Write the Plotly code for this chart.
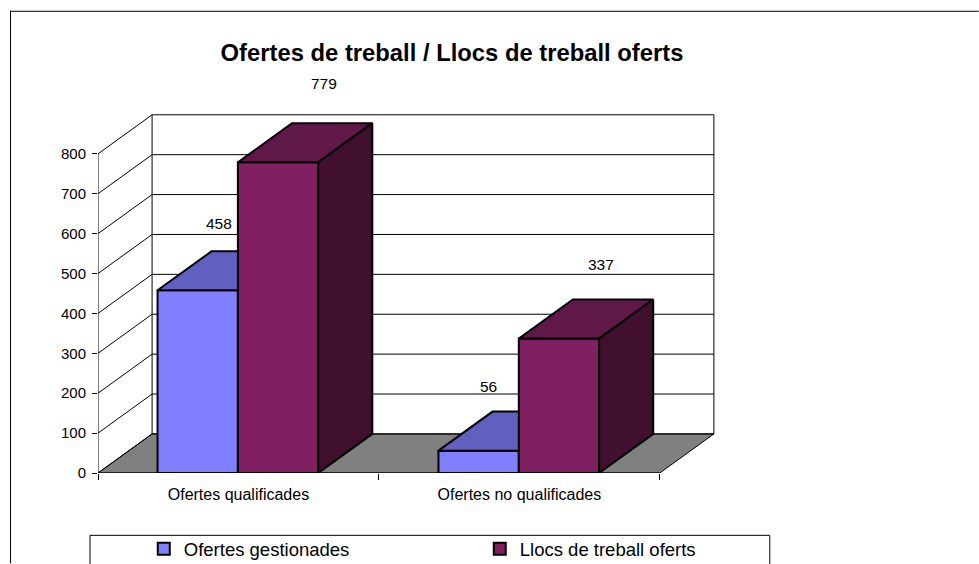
import plotly.graph_objects as go

# ---- data ----
categories = ["Ofertes qualificades", "Ofertes no qualificades"]
series_names = ["Ofertes gestionades", "Llocs de treball oferts"]
ofertes_gestionades = [458, 56]
llocs_oferts = [779, 337]
y_ticks = [0, 100, 200, 300, 400, 500, 600, 700, 800]

# ---- style / geometry ----
W, H = 979, 564
PX_X, PX_Y = 281.0, 0.4          # pixels per category, per value unit
L, B0 = 98.0, 473.5              # pixel position of the origin
DX, DY = 0.1925, 98.0            # depth of the 3D box in axis units
X_MAX, Y_MAX = 2.2, 910.0
GAP, BW = 0.212, 0.286
FRONT = ["#8080FF", "#802060"]
TOP = ["#6060C0", "#601848"]
SIDE = "#40102E"
LABEL_SHIFT_A = [(21, 67), (10, 64)]
LABEL_SHIFT_B = [(46, 79), (42, 74)]
FONT = "Liberation Sans, Arial, sans-serif"

top_px = B0 - Y_MAX * PX_Y
plot_h = Y_MAX * PX_Y
plot_w = X_MAX * PX_X

fig = go.Figure()

# front faces and legend
for i, vals in enumerate([ofertes_gestionades, llocs_oferts]):
    fig.add_trace(go.Bar(
        x=[0, 1], y=vals, name=series_names[i],
        width=BW, offset=GAP + i * BW,
        marker=dict(color=FRONT[i], line=dict(color="black", width=2)),
        hoverinfo="y",
    ))


def poly(xs, ys, color, lw=2):
    fig.add_trace(go.Scatter(
        x=xs + xs[:1], y=ys + ys[:1], mode="lines", fill="toself",
        fillcolor=color, line=dict(color="black", width=lw),
        showlegend=False, hoverinfo="skip", cliponaxis=False,
    ))


# depth faces, computed from the values
for c, (a, b) in enumerate(zip(ofertes_gestionades, llocs_oferts)):
    x0 = c + GAP
    x1 = x0 + BW
    x2 = x1 + BW
    # first series: only the part of the top not hidden by the second bar
    poly([x0, x1, x1, x0 + DX], [a, a, a + DY, a + DY], TOP[0])
    # second series
    poly([x1, x2, x2 + DX, x1 + DX], [b, b, b + DY, b + DY], TOP[1])
    poly([x2, x2 + DX, x2 + DX, x2], [0, DY, b + DY, b], SIDE)

# axis lines of the front plane
for xs, ys in ([[0, 0], [0, y_ticks[-1]]], [[0, 2], [0, 0]]):
    fig.add_trace(go.Scatter(x=xs, y=ys, mode="lines",
                             line=dict(color="black", width=1),
                             showlegend=False, hoverinfo="skip", cliponaxis=False))

shapes = []
below = dict(layer="below", xref="x", yref="y")
# floor
shapes.append(dict(type="path", **below, fillcolor="#808080", line=dict(color="black", width=1),
                   path=f"M0,0 L2,0 L{2 + DX},{DY} L{DX},{DY} Z"))
# gridlines on side and back walls
for v in y_ticks:
    shapes.append(dict(type="line", **below, x0=0, y0=v, x1=DX, y1=v + DY,
                       line=dict(color="black", width=1)))
    shapes.append(dict(type="line", **below, x0=DX, y0=v + DY, x1=2 + DX, y1=v + DY,
                       line=dict(color="black", width=1)))
for xv in (DX, 2 + DX):
    shapes.append(dict(type="line", **below, x0=xv, y0=DY, x1=xv, y1=y_ticks[-1] + DY,
                       line=dict(color="black", width=1)))


# outer frame and legend box, in pixels of the page
def px(x):
    return (x - L) / plot_w


def py(y):
    return (B0 - y) / plot_h


frame = dict(xref="paper", yref="paper", line=dict(color="black", width=1))
shapes.append(dict(type="line", **frame, x0=px(10), x1=px(979), y0=py(10.5), y1=py(10.5)))
shapes.append(dict(type="line", **frame, x0=px(10.5), x1=px(10.5), y0=py(10), y1=py(564)))
shapes.append(dict(type="rect", **frame, x0=px(90), x1=px(770), y0=py(536), y1=py(580)))

annotations = []
for vals, shifts, i in ((ofertes_gestionades, LABEL_SHIFT_A, 0), (llocs_oferts, LABEL_SHIFT_B, 1)):
    for c, v in enumerate(vals):
        annotations.append(dict(
            x=c + GAP + BW * (i + 0.5), y=v, xref="x", yref="y", text=str(v),
            showarrow=False, xshift=shifts[c][0], yshift=shifts[c][1],
            font=dict(family=FONT, size=15.5, color="black"),
        ))

fig.update_layout(
    width=W, height=H,
    margin=dict(l=L, r=W - L - plot_w, t=top_px, b=H - B0, pad=0, autoexpand=False),
    paper_bgcolor="white", plot_bgcolor="white",
    font=dict(family=FONT, color="black"),
    barmode="overlay",
    showlegend=True,
    title=dict(text="<b>Ofertes de treball / Llocs de treball oferts</b>",
               x=452 / W, xanchor="center",
               y=1 - 53 / H, yanchor="middle", yref="container",
               font=dict(family=FONT, size=23.8, color="black")),
    legend=dict(orientation="h", x=px(816), xanchor="right", y=py(531), yanchor="top",
                bgcolor="rgba(0,0,0,0)", borderwidth=0,
                entrywidth=291, entrywidthmode="pixels",
                font=dict(family=FONT, size=18.5, color="black"), traceorder="normal"),
    xaxis=dict(range=[0, X_MAX], showgrid=False, zeroline=False, showline=False,
               tickmode="array", tickvals=[0.5, 1.5], ticktext=categories, ticks="",
               ticklabelstandoff=10,
               tickfont=dict(family=FONT, size=16),
               minor=dict(tickmode="array", tickvals=[0, 1, 2], ticks="outside",
                          ticklen=6, tickcolor="black", tickwidth=1, showgrid=False)),
    yaxis=dict(range=[0, Y_MAX], showgrid=False, zeroline=False, showline=False,
               tickmode="array", tickvals=y_ticks, ticks="outside", ticklen=5,
               tickcolor="black", tickwidth=1, ticklabelstandoff=3,
               tickfont=dict(family=FONT, size=15)),
    shapes=shapes, annotations=annotations,
)

fig.write_html("out.html", config={"displayModeBar": False},
               post_script="document.body.style.margin='0';")
